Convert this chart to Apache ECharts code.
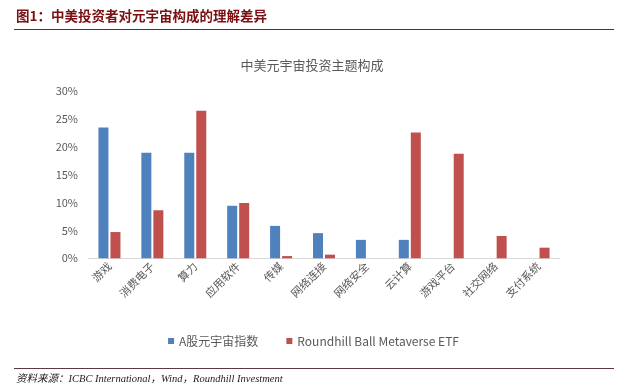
<!DOCTYPE html>
<html>
<head>
<meta charset="utf-8">
<script src="https://cdn.jsdelivr.net/npm/echarts@6/dist/echarts.min.js"></script>
<style>
html,body{margin:0;padding:0;background:#fff;}
#chart{width:627px;height:392px;}
</style>
</head>
<body>
<div id="chart"></div>
<script>
var categories = ['游戏','消费电子','算力','应用软件','传媒','网络连接','网络安全','云计算','游戏平台','社交网络','支付系统'];
var seriesNames = ['A股元宇宙指数','Roundhill Ball Metaverse ETF'];
var aShareValues = [23.4, 18.9, 18.9, 9.4, 5.8, 4.5, 3.3, 3.3, 0, 0, 0];
var roundhillValues = [4.7, 8.6, 26.4, 9.9, 0.4, 0.65, 0, 22.5, 18.7, 4.0, 1.9];
var yTicks = [0, 5, 10, 15, 20, 25, 30];

var chart = echarts.init(document.getElementById('chart'), null, {renderer:'canvas'});
var cjk = '"Noto Sans CJK SC", "Microsoft YaHei", sans-serif';
chart.setOption({
  animation:false,
  backgroundColor:'#fff',
  title:{
    text:'中美元宇宙投资主题构成',
    left:307, top:54, textAlign:'center',
    textStyle:{fontFamily:cjk, fontSize:13, fontWeight:'normal', color:'#595959'}
  },
  graphic:[
    {type:'text', left:16, top:9, style:{text:'图1：中美投资者对元宇宙构成的理解差异', font:'bold 13.5px "Noto Sans CJK SC", sans-serif', fill:'#7a0f14'}},
    {type:'line', shape:{x1:14, y1:29.5, x2:614, y2:29.5}, style:{stroke:'#3a3a3a', lineWidth:1.2}},
    {type:'line', shape:{x1:14, y1:368.5, x2:614, y2:368.5}, style:{stroke:'#5a3a42', lineWidth:1.2}},
    {type:'text', left:16, top:374, style:{text:'资料来源：ICBC International，Wind，Roundhill Investment', font:'italic 10.5px "Liberation Serif", "Noto Sans CJK SC", serif', fill:'#222'}}
  ],
  legend:{
    data:seriesNames,
    left:'center', top:330,
    itemWidth:6, itemHeight:6, itemGap:28,
    icon:'rect',
    textStyle:{fontFamily:cjk, fontSize:12, color:'#595959'}
  },
  grid:{left:88, right:67, top:90.7, bottom:133.7, containLabel:false},
  xAxis:{
    type:'category',
    data:categories,
    axisLine:{lineStyle:{color:'#d9d9d9'}},
    axisTick:{show:false},
    axisLabel:{rotate:45, interval:0, margin:6, fontFamily:cjk, fontSize:11, color:'#595959'}
  },
  yAxis:{
    type:'value', min:0, max:30, interval:5,
    axisLine:{show:false}, axisTick:{show:false}, splitLine:{show:false},
    axisLabel:{margin:10, fontFamily:cjk, fontSize:11, color:'#595959',
      formatter:function(v){ return yTicks.indexOf(v)>=0 ? v+'%' : ''; }}
  },
  series:[
    {name:seriesNames[0], type:'bar', data:aShareValues, barWidth:10, barGap:'20%', itemStyle:{color:'#4f81bd'}},
    {name:seriesNames[1], type:'bar', data:roundhillValues, barWidth:10, barGap:'20%', itemStyle:{color:'#c0504d'}}
  ]
});
</script>
</body>
</html>
